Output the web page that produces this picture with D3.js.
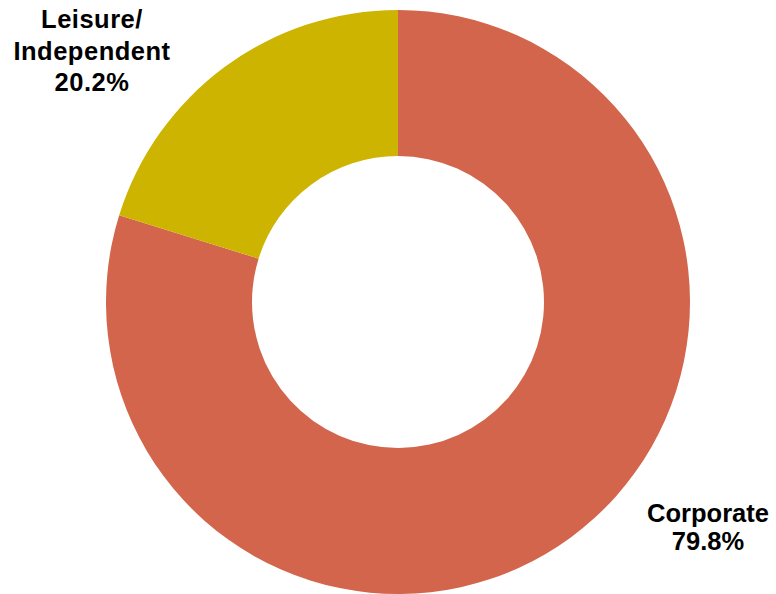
<!DOCTYPE html>
<html>
<head>
<meta charset="utf-8">
<script src="https://cdn.jsdelivr.net/npm/d3@7"></script>
<style>
  body { margin: 0; background: #fff; }
  svg { display: block; }
  .lbl { font-family: "Liberation Sans", Arial, sans-serif; font-weight: bold; font-size: 25.5px; fill: #000; }
</style>
</head>
<body>
<div id="chart"></div>
<script>
// data
const categories = ["Corporate", "Leisure/Independent"];
const shares = [79.8, 20.2];
const labelLines = [["Corporate", "79.8%"], ["Leisure/", "Independent", "20.2%"]];

const colors = ["#D2654B", "#CDB400"];

const width = 776, height = 594;
const cx = 398, cy = 302;
const outerR = 292, innerR = 146;

// where each label block sits (centre x, first baseline y, line step)
const labelLayout = [
    { x: 708, y: 522, step: 28 },
    { x: 92, y: 28, step: 31.5 }
];

const svg = d3.select("#chart").append("svg")
    .attr("width", width)
    .attr("height", height);

const pie = d3.pie().sort(null).value(d => d);
const arc = d3.arc().innerRadius(innerR).outerRadius(outerR);

const g = svg.append("g")
    .attr("transform", `translate(${cx}, ${cy})`);

g.selectAll("path")
    .data(pie(shares))
    .enter()
    .append("path")
    .attr("d", arc)
    .attr("fill", (d, i) => colors[i]);

labelLines.forEach((lines, i) => {
    let pos = labelLayout[i];
    let t = svg.append("text")
        .attr("class", "lbl")
        .attr("text-anchor", "middle")
        .attr("letter-spacing", i == 1 ? 0.5 : 0);
    lines.forEach((s, j) => {
        t.append("tspan")
            .attr("x", pos.x)
            .attr("y", pos.y + j * pos.step)
            .text(s);
    });
});
</script>
</body>
</html>
